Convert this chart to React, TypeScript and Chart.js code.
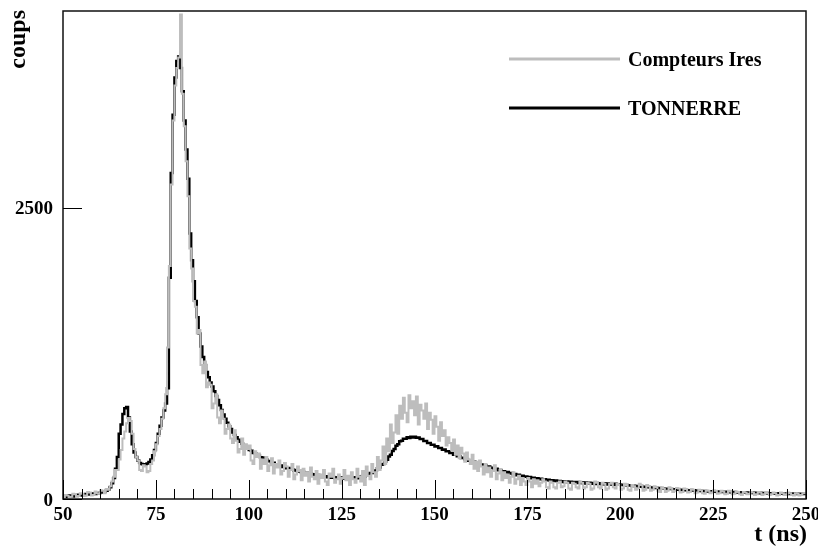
import React, { useEffect, useRef } from "react";
import { Chart, registerables } from "chart.js";

Chart.register(...registerables);

// Histogram binning (ns)
const BIN_START = 50;
const BIN_WIDTH = 0.5;

// Axis ranges and ticks
const X_MIN = 50;
const X_MAX = 250;
const Y_MIN = 0;
const Y_MAX = 4190;
const xTickLabels = [50, 75, 100, 125, 150, 175, 200, 225, 250];
const xMinorStep = 5;
const yTickLabels = [0, 2500];

const seriesNames = ["Compteurs Ires", "TONNERRE"];

// TONNERRE (black), counts per 0.5 ns bin from 50 ns to 250 ns
const tonnerre = [
  20, 28, 18, 32, 25, 30, 22, 34, 28, 36,
  30, 40, 34, 42, 38, 45, 40, 48, 44, 52,
  50, 58, 55, 64, 70, 82, 100, 135, 180, 260,
  360, 560, 640, 730, 780, 790, 700, 580, 470, 400,
  360, 330, 310, 300, 295, 298, 305, 318, 340, 375,
  420, 480, 560, 630, 700, 760, 820, 950, 1900, 2800,
  3300, 3620, 3760, 3800, 3700, 3500, 3250, 3000, 2750, 2280,
  2050, 1870, 1700, 1560, 1420, 1310, 1220, 1150, 1090, 1045,
  1000, 965, 925, 885, 850, 805, 765, 725, 690, 655,
  625, 600, 572, 550, 530, 508, 492, 474, 460, 446,
  434, 420, 414, 396, 392, 376, 373, 358, 356, 342,
  340, 326, 325, 311, 311, 298, 299, 286, 287, 275,
  277, 264, 266, 254, 256, 245, 248, 237, 240, 229,
  232, 221, 225, 214, 218, 208, 212, 202, 206, 196,
  200, 191, 196, 187, 192, 183, 189, 181, 187, 179,
  185, 177, 184, 176, 183, 175, 184, 177, 186, 179,
  190, 184, 197, 194, 208, 207, 223, 224, 242, 244,
  265, 270, 293, 300, 323, 336, 365, 380, 413, 430,
  458, 470, 495, 500, 518, 517, 530, 524, 535, 527,
  535, 525, 529, 515, 515, 498, 497, 481, 481, 465,
  466, 451, 452, 437, 438, 423, 424, 409, 410, 395,
  396, 381, 382, 367, 368, 353, 355, 341, 343, 329,
  332, 318, 320, 306, 307, 294, 297, 286, 287, 276,
  279, 266, 269, 256, 259, 246, 249, 236, 239, 228,
  231, 220, 223, 212, 215, 204, 208, 196, 200, 190,
  194, 184, 188, 179, 183, 174, 178, 169, 174, 165,
  170, 161, 166, 157, 162, 154, 159, 150, 155, 147,
  153, 144, 151, 142, 148, 140, 147, 138, 145, 137,
  143, 134, 141, 132, 140, 131, 138, 129, 137, 128,
  136, 126, 135, 125, 134, 124, 132, 123, 131, 122,
  124, 120, 123, 118, 120, 115, 117, 112, 114, 110,
  111, 106, 108, 103, 105, 100, 102, 98, 99, 95,
  96, 92, 94, 90, 91, 87, 89, 85, 86, 83,
  84, 80, 82, 78, 80, 76, 78, 74, 76, 72,
  74, 70, 72, 68, 70, 66, 68, 65, 67, 63,
  66, 62, 65, 61, 64, 60, 63, 58, 62, 57,
  61, 56, 60, 55, 59, 54, 58, 53, 57, 52,
  56, 51, 55, 50, 54, 49, 53, 48, 52, 48,
  51, 47, 50, 46, 50, 45, 49, 45, 48, 44,
  48, 44, 47, 43, 47, 43, 46, 42, 46, 42,
];

// Compteurs Ires (grey), counts per 0.5 ns bin from 50 ns to 250 ns
const compteursIres = [
  10, 15, 35, 30, 15, 20, 45, 40, 20, 25,
  50, 45, 25, 30, 60, 55, 30, 35, 65, 50,
  45, 75, 70, 50, 85, 80, 110, 150, 190, 250,
  250, 340, 420, 520, 580, 650, 695, 670, 560, 430,
  360, 330, 250, 240, 290, 280, 230, 240, 300, 330,
  410, 470, 540, 600, 690, 780, 900, 1300, 2000, 2700,
  3250, 3550, 3700, 3790, 4160, 3480, 3200, 2900, 2600, 2150,
  1980, 1700, 1650, 1420, 1450, 1150, 1080, 1180, 960, 1000,
  980, 780, 820, 900, 700, 650, 760, 690, 560, 600,
  640, 520, 480, 590, 500, 400, 430, 520, 380, 470,
  430, 460, 330, 300, 410, 360, 390, 260, 340, 300,
  360, 240, 290, 350, 220, 300, 270, 330, 210, 240,
  310, 280, 190, 250, 300, 170, 210, 280, 240, 160,
  260, 200, 230, 150, 270, 190, 170, 240, 130, 210,
  180, 250, 150, 120, 220, 190, 260, 140, 170, 210,
  130, 180, 250, 160, 200, 120, 230, 170, 140, 260,
  190, 150, 240, 120, 280, 200, 170, 300, 230, 190,
  360, 250, 330, 450, 300, 520, 410, 640, 480, 570,
  720, 560, 800, 690, 870, 740, 660, 890, 780, 840,
  720, 880, 640, 810, 760, 690, 820, 600, 740, 680,
  560, 710, 620, 500, 660, 540, 590, 460, 530, 480,
  420, 510, 380, 460, 350, 440, 390, 320, 400, 340,
  300, 380, 260, 320, 240, 330, 280, 210, 300, 230,
  270, 190, 240, 290, 170, 220, 250, 160, 230, 180,
  210, 140, 190, 230, 130, 170, 200, 120, 180, 150,
  120, 180, 150, 100, 170, 130, 160, 110, 140, 170,
  150, 100, 90, 150, 140, 100, 90, 140, 150, 100,
  110, 150, 140, 90, 80, 140, 130, 100, 90, 150,
  140, 90, 100, 140, 130, 80, 90, 150, 140, 100,
  90, 140, 130, 80, 90, 130, 140, 100, 90, 130,
  120, 80, 90, 130, 120, 80, 70, 120, 110, 80,
  90, 130, 120, 70, 80, 120, 110, 70, 80, 110,
  100, 70, 60, 100, 90, 60, 70, 100, 90, 60,
  70, 95, 90, 55, 60, 90, 85, 55, 60, 85,
  80, 50, 55, 80, 75, 50, 45, 75, 70, 50,
  55, 75, 70, 45, 50, 70, 65, 40, 45, 70,
  65, 40, 45, 65, 60, 40, 35, 60, 55, 40,
  45, 60, 55, 35, 40, 60, 55, 35, 40, 55,
  50, 35, 40, 55, 50, 30, 35, 55, 50, 35,
  40, 55, 50, 35, 30, 50, 45, 30, 35, 50,
];

const GREY = "#bdbdbd";
const BLACK = "#000000";
const FONT = "'Liberation Serif', 'Times New Roman', serif";

function toSteps(values: number[]) {
  const pts = values.map((v, i) => ({ x: BIN_START + i * BIN_WIDTH, y: v }));
  pts.push({ x: BIN_START + values.length * BIN_WIDTH, y: values[values.length - 1] });
  return pts;
}

const rootStyle = {
  id: "rootStyle",
  afterDraw(chart: any) {
    const { ctx, chartArea: a, scales } = chart;
    const x = scales.x;
    const y = scales.y;
    ctx.save();

    // frame
    ctx.strokeStyle = "#111";
    ctx.lineWidth = 1.5;
    ctx.strokeRect(a.left, a.top, a.right - a.left, a.bottom - a.top);

    // x ticks (inside, from bottom)
    ctx.lineWidth = 1;
    ctx.strokeStyle = "#000";
    for (let v = X_MIN; v <= X_MAX; v += xMinorStep) {
      const px = Math.round(x.getPixelForValue(v)) + 0.5;
      const major = xTickLabels.includes(v);
      ctx.beginPath();
      ctx.moveTo(px, a.bottom);
      ctx.lineTo(px, a.bottom - (major ? 19 : 10));
      ctx.stroke();
    }
    // y ticks (inside, from left)
    for (const v of yTickLabels) {
      const py = Math.round(y.getPixelForValue(v)) + 0.5;
      ctx.beginPath();
      ctx.moveTo(a.left, py);
      ctx.lineTo(a.left + 19, py);
      ctx.stroke();
    }

    // tick labels
    ctx.fillStyle = "#000";
    ctx.font = `bold 19px ${FONT}`;
    ctx.textAlign = "center";
    ctx.textBaseline = "alphabetic";
    for (const v of xTickLabels) {
      ctx.fillText(String(v), x.getPixelForValue(v), a.bottom + 21);
    }
    ctx.textAlign = "right";
    for (const v of yTickLabels) {
      ctx.fillText(String(v), a.left - 10, y.getPixelForValue(v) + 6.5);
    }

    // axis titles
    ctx.font = `bold 24px ${FONT}`;
    ctx.textAlign = "right";
    ctx.fillText("t (ns)", a.right + 1, a.bottom + 42);
    ctx.save();
    ctx.translate(25, a.top - 1);
    ctx.rotate(-Math.PI / 2);
    ctx.textAlign = "right";
    ctx.fillText("coups", 0, 0);
    ctx.restore();

    // legend
    const legendItems = [
      { name: seriesNames[0], color: GREY, yLine: 59 },
      { name: seriesNames[1], color: BLACK, yLine: 108 },
    ];
    ctx.font = `bold 20px ${FONT}`;
    ctx.textAlign = "left";
    for (const it of legendItems) {
      ctx.strokeStyle = it.color;
      ctx.lineWidth = 3;
      ctx.beginPath();
      ctx.moveTo(509, it.yLine);
      ctx.lineTo(620, it.yLine);
      ctx.stroke();
      ctx.fillStyle = "#000";
      ctx.fillText(it.name, 628, it.yLine + 7);
    }
    ctx.restore();
  },
};

export default function App() {
  const ref = useRef<HTMLCanvasElement | null>(null);

  useEffect(() => {
    if (!ref.current) return;
    const chart = new Chart(ref.current, {
      type: "line",
      data: {
        datasets: [
          {
            label: seriesNames[0],
            data: toSteps(compteursIres),
            borderColor: GREY,
            borderWidth: 2,
            pointRadius: 0,
            stepped: "after",
            fill: false,
            order: 0,
          },
          {
            label: seriesNames[1],
            data: toSteps(tonnerre),
            borderColor: BLACK,
            borderWidth: 2.5,
            pointRadius: 0,
            stepped: "after",
            fill: false,
            order: 1,
          },
        ],
      },
      options: {
        responsive: false,
        animation: false,
        devicePixelRatio: 1,
        events: [],
        layout: { padding: { left: 63, top: 11, right: 12, bottom: 50 } },
        scales: {
          x: { type: "linear", min: X_MIN, max: X_MAX, display: false },
          y: { type: "linear", min: Y_MIN, max: Y_MAX, display: false },
        },
        plugins: {
          legend: { display: false },
          tooltip: { enabled: false },
        },
      },
      plugins: [rootStyle],
    });
    return () => chart.destroy();
  }, []);

  return (
    <div style={{ position: "absolute", left: 0, top: 0, width: 818, height: 549, background: "#fff" }}>
      <canvas ref={ref} width={818} height={549} style={{ display: "block" }} />
    </div>
  );
}
